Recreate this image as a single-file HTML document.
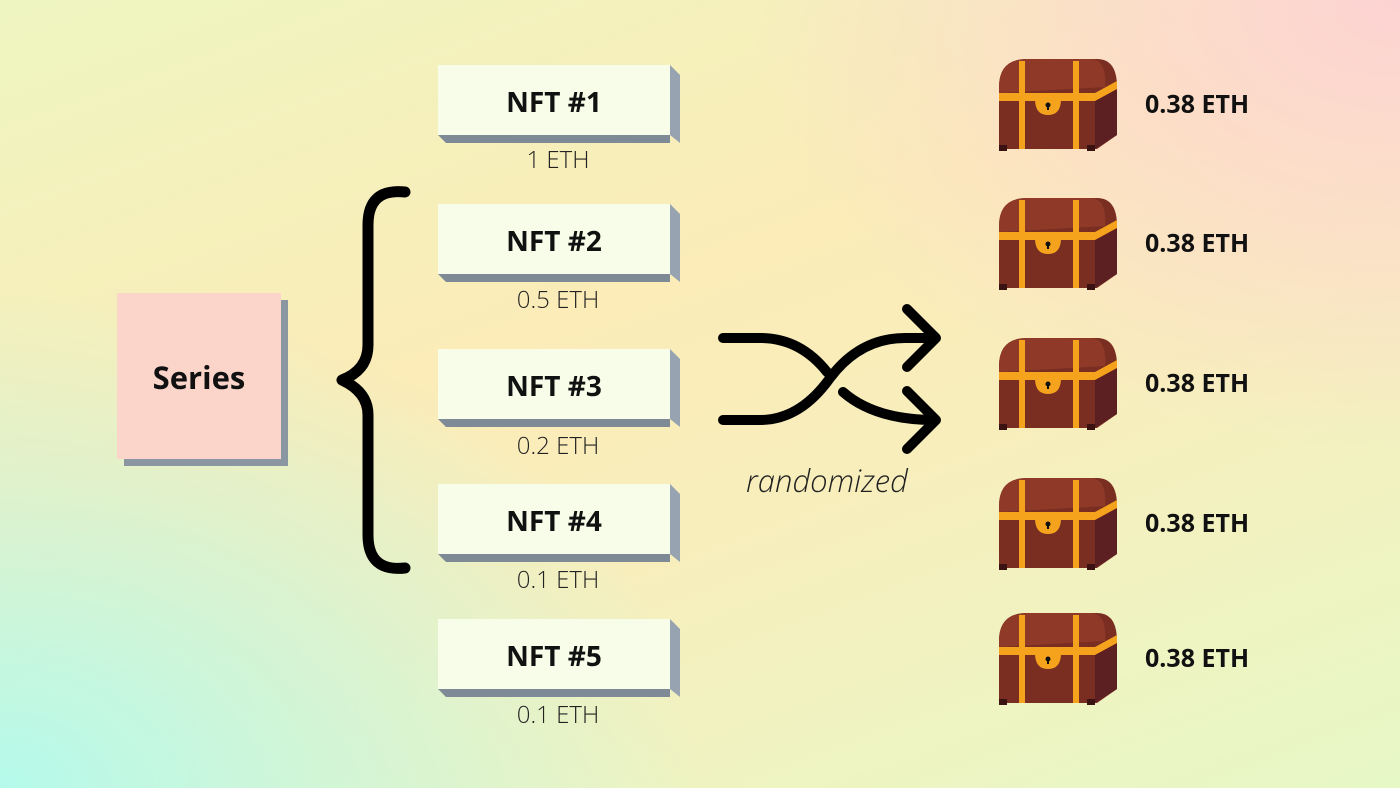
<!DOCTYPE html>
<html><head><meta charset="utf-8"><style>
body{margin:0;width:1400px;height:788px;overflow:hidden;font-family:"Open Sans","Liberation Sans",sans-serif;}
.bg{position:absolute;inset:0;background:
radial-gradient(ellipse 650px 450px at 1400px 0px,rgba(253,208,214,0.9),rgba(253,208,214,0) 100%),
radial-gradient(ellipse 700px 500px at 0px 788px,rgba(180,250,235,1),rgba(180,250,235,0) 100%),
linear-gradient(160deg,#eef5c0 0%,#fbecb8 40%,#f8eebc 60%,#e6f8c6 100%);}
.nft{position:absolute;left:438px;width:232px;height:70px;background:#f7fde9;}
.nft:after{content:"";position:absolute;left:0;top:70px;width:232px;height:8px;background:#7e8a96;clip-path:polygon(0 0,100% 0,100% 100%,8px 100%);}
.nft:before{content:"";position:absolute;left:232px;top:0;width:10px;height:78px;background:#97a3b0;clip-path:polygon(0 0,100% 10px,100% 100%,0 calc(100% - 8px));}
.nft span{display:block;text-align:center;line-height:74px;font-weight:bold;font-size:28px;color:#111;}
.price{position:absolute;left:438px;width:240px;text-align:center;font-size:24px;color:#222;font-weight:300;}
.eth{position:absolute;left:1145px;font-weight:bold;font-size:25px;color:#111;}
</style></head><body>
<div class="bg"></div>
<div style="position:absolute;left:124px;top:300px;width:164px;height:166px;background:#8a97a3"></div>
<div style="position:absolute;left:117px;top:293px;width:164px;height:166px;background:#fbd5c9;display:flex;align-items:center;justify-content:center;font-weight:bold;font-size:31px;color:#111;padding-top:4px;box-sizing:border-box">Series</div>

<div class="nft" style="top:65px"><span>NFT #1</span></div><div class="price" style="top:143px">1 ETH</div>
<div class="nft" style="top:204px"><span>NFT #2</span></div><div class="price" style="top:283px">0.5 ETH</div>
<div class="nft" style="top:349px"><span>NFT #3</span></div><div class="price" style="top:429px">0.2 ETH</div>
<div class="nft" style="top:484px"><span>NFT #4</span></div><div class="price" style="top:563px">0.1 ETH</div>
<div class="nft" style="top:619px"><span>NFT #5</span></div><div class="price" style="top:698px">0.1 ETH</div>

<svg width="1400" height="788" style="position:absolute;left:0;top:0">
<defs>
<g id="chest">
<path d="M2 30 Q2 2 30 2 L100 2 Q120 2 120 30 L120 78 L100 92 L2 92 Z" fill="#7a2e22"/>
<path d="M2 30 Q2 2 30 2 L95 2 Q110 4 108 30 L2 36 Z" fill="#8f3a28"/>
<path d="M98 40 L120 28 L120 78 L98 92 Z" fill="#5c1f22"/>
<path d="M2 36 L98 36 L120 24 L120 32 L98 44 L2 44 Z" fill="#f5a31d"/>
<rect x="22" y="4" width="6" height="88" fill="#f5a31d"/>
<rect x="76" y="4" width="6" height="88" fill="#f5a31d"/>
<path d="M38 42 L64 42 Q64 58 51 58 Q38 58 38 42 Z" fill="#f5a31d"/>
<circle cx="51" cy="48" r="2.5" fill="#111"/><rect x="50" y="48" width="2" height="5" fill="#111"/>
<rect x="2" y="88" width="8" height="6" fill="#3a1212"/><rect x="90" y="88" width="8" height="6" fill="#3a1212"/>
</g>
</defs>
<use href="#chest" x="997" y="57"/>
<use href="#chest" x="997" y="196"/>
<use href="#chest" x="997" y="336"/>
<use href="#chest" x="997" y="476"/>
<use href="#chest" x="997" y="611"/>
<path d="M405 192 Q368 188 368 225 L368 345 Q368 370 342 380 Q368 392 368 415 L368 535 Q368 572 405 568" fill="none" stroke="#000" stroke-width="11" stroke-linecap="round" stroke-linejoin="round"/>
<g fill="none" stroke="#000" stroke-width="10" stroke-linecap="round" stroke-linejoin="round">
<path d="M723 338 L760 338 Q800 338 827 372"/>
<path d="M723 420 L760 420 Q800 420 830 378 Q860 338 905 338 L935 338"/>
<path d="M843 392 Q875 420 935 420"/>
<path d="M907 309 L936 338 L907 367"/>
<path d="M907 391 L936 420 L907 449"/>
</g>
</svg>
<div style="position:absolute;left:746px;top:460px;font-style:italic;font-size:31px;color:#222;font-weight:300">randomized</div>
<div class="eth" style="top:87px">0.38 ETH</div>
<div class="eth" style="top:226px">0.38 ETH</div>
<div class="eth" style="top:366px">0.38 ETH</div>
<div class="eth" style="top:506px">0.38 ETH</div>
<div class="eth" style="top:641px">0.38 ETH</div>
</body></html>
